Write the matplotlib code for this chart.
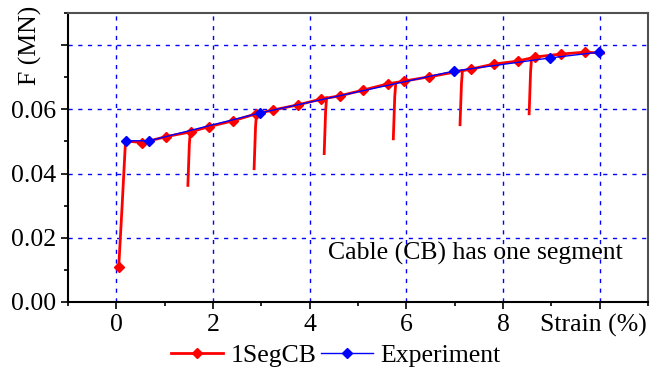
import matplotlib
matplotlib.use("Agg")
import matplotlib.pyplot as plt
from matplotlib.ticker import MultipleLocator
from matplotlib.transforms import ScaledTranslation

# 1SegCB (simulation) - points on the main curve
sim_x = [0.05, 0.12, 0.19, 0.54, 1.03, 1.55, 1.91, 2.41, 2.89, 3.25, 3.76, 4.24,
         4.62, 5.11, 5.61, 5.96, 6.46, 7.33, 7.81, 8.30, 8.67, 9.19, 9.69, 10.08]
sim_y = [0.011, 0.030, 0.0502, 0.0496, 0.0515, 0.0530, 0.0546, 0.0564, 0.0586, 0.0598,
         0.0614, 0.0632, 0.0642, 0.0660, 0.0679, 0.0688, 0.0701, 0.0725, 0.0741,
         0.0750, 0.0763, 0.0772, 0.0778, 0.0775]
sim_marked = [0, 3, 4, 5, 6, 7, 8, 9, 10, 11, 12, 13, 14, 15, 16, 17, 18, 19, 20, 21, 22]

# unloading spikes of the simulation
drop_x = [1.53, 2.90, 4.35, 5.78, 7.16, 8.59]
drop_top = [0.0530, 0.0586, 0.0636, 0.0680, 0.0720, 0.0758]
drop_bottom = [0.0363, 0.0415, 0.0462, 0.0508, 0.0552, 0.0586]

# Experiment
exp_x = [0.19, 0.68, 2.98, 6.98, 8.97, 9.98]
exp_y = [0.0502, 0.0502, 0.0589, 0.0719, 0.0760, 0.0778]

x_ticks = [0, 2, 4, 6, 8, 10]
x_labels = ["0", "2", "4", "6", "8", "Strain (%)"]
y_ticks = [0.00, 0.02, 0.04, 0.06, 0.08]
y_labels = ["0.00", "0.02", "0.04", "0.06", ""]

plt.rcParams['font.family'] = ['Liberation Serif', 'DejaVu Serif']
fs = 18.5

fig = plt.figure(figsize=(6.5, 3.76), dpi=100)
ax = fig.add_axes([0.1046, 0.197, 0.8924, 0.7684])

red = '#ff0000'
blue = '#0000ff'

ax.plot(sim_x, sim_y, color=red, lw=2, marker='D', ms=5, markevery=sim_marked,
        label="1SegCB", zorder=3)
for x, top, bot in zip(drop_x, drop_top, drop_bottom):
    ax.plot([x, x - 0.02, x - 0.05], [top, top - 0.004, bot], color=red, lw=2, zorder=3)
ax.plot(exp_x, exp_y, color=blue, lw=1, marker='D', ms=5, label="Experiment", zorder=4)

ax.set_xlim(-1, 11)
ax.set_ylim(0, 0.09)
ax.set_xticks(x_ticks)
ax.set_xticklabels(x_labels)
ax.set_yticks(y_ticks)
ax.set_yticklabels(y_labels)
ax.xaxis.set_minor_locator(MultipleLocator(1))
ax.yaxis.set_minor_locator(MultipleLocator(0.01))
ax.tick_params(which='major', length=5, width=1.2, labelsize=fs, direction='out')
ax.tick_params(which='minor', length=3, width=1.2, direction='out')

# nudge the "Strain (%)" label left so it stays inside the figure
strain_lbl = ax.get_xticklabels()[-1]
strain_lbl.set_transform(strain_lbl.get_transform() + ScaledTranslation(-6 / 100, 0, fig.dpi_scale_trans))

ax.grid(True, which='major', color=blue, linestyle=(0, (3, 4)), lw=1)

for side in ['left', 'bottom']:
    ax.spines[side].set_linewidth(1.5)
    ax.spines[side].set_color('black')
for side in ['top', 'right']:
    ax.spines[side].set_linewidth(1.5)
    ax.spines[side].set_color('#505050')

# y axis title sits in place of the 0.08 tick label
ax.annotate("F (MN)", xy=(0, 0.08), xycoords=('axes fraction', 'data'),
            xytext=(-27, 0), textcoords='offset points', rotation=90,
            ha='center', va='center', fontsize=fs)

ax.text(4.37, 0.0152, "Cable (CB) has one segment", fontsize=fs, ha='left', va='center')

fig.legend(loc='center', bbox_to_anchor=(0.517, 0.054), ncol=2, frameon=False,
           fontsize=fs, handlelength=2.0, handletextpad=0.3, columnspacing=0.2,
           borderaxespad=0)

fig.savefig("out.png", dpi=100)
